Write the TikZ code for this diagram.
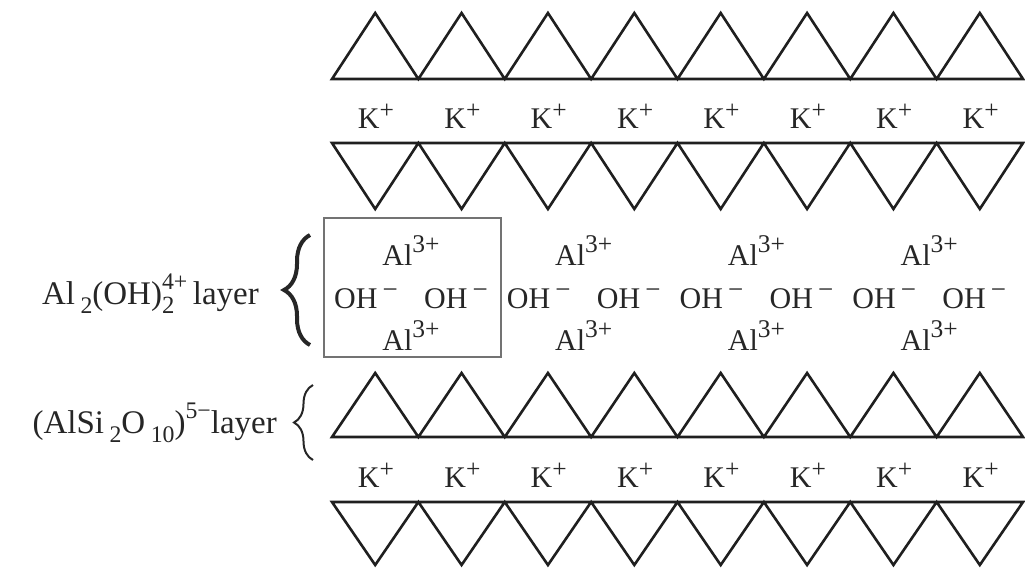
\documentclass[tikz,border=0pt]{standalone}
\usepackage{fontspec}
\setmainfont{Liberation Serif}
\usetikzlibrary{decorations.pathreplacing}
% raised and lowered indices: [scale]{raise}{text}
\newcommand\hisup[3][0.85]{\raisebox{#2}{\scalebox{#1}{#3}}}
\newcommand\losub[2][0.72]{\raisebox{-0.28em}{\scalebox{#1}{#2}}}
% charge stacked over a count, as in (OH)^{4+}_{2}
\newcommand\chargestack[2]{\rlap{\losub[0.75]{#2}}\raisebox{0.45em}{\scalebox{0.72}{#1}}}
\begin{document}
\begin{tikzpicture}[x=1pt,y=-1pt,
  tri/.style={line width=2.6pt,line join=miter,draw=black!88},
  ion/.style={font=\fontsize{30}{32}\selectfont,inner sep=0pt,anchor=base,text=black!85},
  lbl/.style={font=\fontsize{33}{35}\selectfont,inner sep=0pt,anchor=base east,text=black!85},
  cellbox/.style={draw=black!55,line width=1.4pt,minimum width=177pt,minimum height=139pt,inner sep=0pt},
  bracethick/.style={decorate,decoration={brace,amplitude=26pt},line width=4pt,draw=black!85},
  bracethin/.style={decorate,decoration={brace,amplitude=19pt},line width=2pt,draw=black!85}]
\useasboundingbox (0,0) rectangle (1025,568);

% tetrahedral sheets: upward and downward rows of triangles
\def\w{86.375}
\draw[tri] (332,79) \foreach \i in {0,...,7}{ -- ({375.19+\w*\i},13) -- ({418.375+\w*\i},79)} -- cycle;
\draw[tri] (332,143) \foreach \i in {0,...,7}{ -- ({375.19+\w*\i},209) -- ({418.375+\w*\i},143)} -- cycle;
\draw[tri] (332,437) \foreach \i in {0,...,7}{ -- ({375.19+\w*\i},373) -- ({418.375+\w*\i},437)} -- cycle;
\draw[tri] (332,502) \foreach \i in {0,...,7}{ -- ({375.19+\w*\i},565) -- ({418.375+\w*\i},502)} -- cycle;

% interlayer potassium ions
\foreach \i in {0,...,7}{
  \node[ion] (ka\i) at ({376+\w*\i},128) {K\hisup[0.85]{0.32em}{+}};
  \node[ion] (kb\i) at ({376+\w*\i},487) {K\hisup[0.85]{0.32em}{+}};
}

% octahedral sheet: Al3+ and OH- groups
\foreach \i in {0,...,3}{
  \pgfmathsetmacro\cx{411+172.75*\i}
  \node[ion] (alt\i) at (\cx,265) {Al\hisup{0.42em}{3+}};
  \node[ion] (ohl\i) at (\cx-45,308) {OH\,\hisup[0.9]{0.32em}{−}};
  \node[ion] (ohr\i) at (\cx+45,308) {OH\,\hisup[0.9]{0.32em}{−}};
  \node[ion] (alb\i) at (\cx,350) {Al\hisup{0.42em}{3+}};
}

% unit cell outline
\node[cellbox] (cell) at (412.5,287.5) {};

% layer labels with braces
\node[lbl] (lab1) at (259,304) {Al\,\losub{2}(OH)\chargestack{4+}{2}\,layer};
\node[lbl] (lab2) at (277,433) {(AlSi\,\losub{2}O\,\losub{10})\hisup[0.72]{0.45em}{5−}layer};
\coordinate (b1bot) at (310,345);
\coordinate (b1top) at (310,235);
\coordinate (b2bot) at (313,460);
\coordinate (b2top) at (313,385);
\draw[bracethick] (b1bot) -- (b1top);
\draw[bracethin] (b2bot) -- (b2top);
\end{tikzpicture}
\end{document}
